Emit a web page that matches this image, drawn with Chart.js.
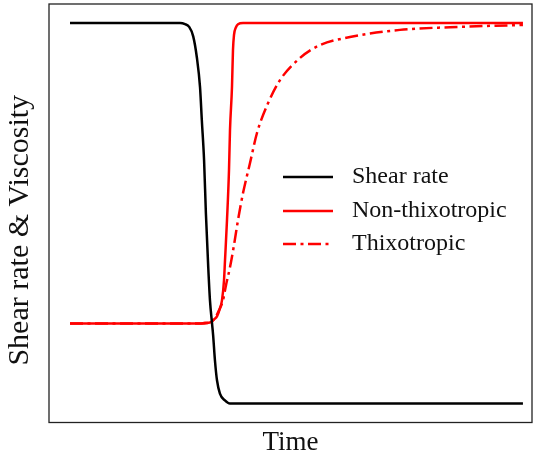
<!DOCTYPE html>
<html>
<head>
<meta charset="utf-8">
<script src="https://cdn.jsdelivr.net/npm/chart.js@4.4.1/dist/chart.umd.min.js"></script>
<style>
  html, body { margin: 0; padding: 0; background: #fff; }
  #wrap { width: 533px; height: 458px; }
</style>
</head>
<body>
<div id="wrap"><canvas id="Chart" width="533" height="458"></canvas></div>
<script>
// Curves (time 0..10, value 0..1)
const shearTime = [0, 2.43, 2.54, 2.63, 2.72, 2.8, 2.87, 2.91, 2.96, 3.0, 3.05, 3.09, 3.135, 3.16, 3.2, 3.245, 3.31, 3.42, 3.53, 10];
const shearRate = [1, 1, 0.997, 0.99, 0.965, 0.91, 0.832, 0.745, 0.639, 0.5, 0.363, 0.271, 0.211, 0.179, 0.113, 0.061, 0.026, 0.008, 0, 0];

const nonThixTime = [0, 2.65, 2.87, 2.98, 3.09, 3.18, 3.245, 3.31, 3.355, 3.4, 3.422, 3.466, 3.51, 3.532, 3.576, 3.598, 3.62, 3.664, 3.709, 3.82, 10];
const nonThixVisc = [0.21, 0.21, 0.21, 0.212, 0.213, 0.221, 0.229, 0.25, 0.271, 0.324, 0.376, 0.482, 0.613, 0.718, 0.832, 0.929, 0.968, 0.989, 0.997, 1, 1];

const thixTime = [0, 2.87, 3.09, 3.2, 3.29, 3.377, 3.444, 3.532, 3.62, 3.709, 3.82, 3.974, 4.128, 4.371, 4.636, 5.077, 5.519, 6.181, 7.285, 8.389, 10];
const thixVisc = [0.21, 0.21, 0.213, 0.224, 0.245, 0.271, 0.311, 0.358, 0.416, 0.482, 0.553, 0.632, 0.711, 0.789, 0.85, 0.908, 0.942, 0.963, 0.982, 0.989, 0.995];

const seriesLabels = ['Shear rate', 'Non-thixotropic', 'Thixotropic'];
const yAxisLabel = 'Shear rate & Viscosity';

const toPoints = (xs, ys) => xs.map((x, i) => ({ x: x, y: ys[i] }));

const serif = "'Liberation Serif', 'DejaVu Serif', serif";

// frame around the plot area + y label (sits a bit below centre, like the original)
const framePlugin = {
  id: 'frame',
  afterDraw(chart) {
    const { ctx, chartArea: a } = chart;
    ctx.save();
    ctx.strokeStyle = '#222';
    ctx.lineWidth = 1.3;
    ctx.strokeRect(a.left, a.top, a.right - a.left, a.bottom - a.top);

    ctx.translate(20, (a.top + a.bottom) / 2 + 17);
    ctx.rotate(-Math.PI / 2);
    ctx.fillStyle = '#111';
    ctx.font = "30px " + serif;
    ctx.textAlign = 'center';
    ctx.textBaseline = 'middle';
    ctx.fillText(yAxisLabel, 0, 0);
    ctx.restore();
  }
};

// legend drawn inside the plot, taken from the datasets
const insideLegend = {
  id: 'insideLegend',
  afterDatasetsDraw(chart) {
    const { ctx, chartArea: a } = chart;
    const x0 = a.left + 234, x1 = a.left + 284, tx = a.left + 303;
    const rows = [177, 211, 244];
    ctx.save();
    chart.data.datasets.forEach((ds, i) => {
      const y = rows[i];
      ctx.strokeStyle = ds.borderColor;
      ctx.lineWidth = ds.borderWidth;
      ctx.setLineDash(ds.borderDash || []);
      ctx.beginPath();
      ctx.moveTo(x0, y);
      ctx.lineTo(x1, y);
      ctx.stroke();
      ctx.setLineDash([]);
      ctx.fillStyle = '#111';
      ctx.font = "24px " + serif;
      ctx.textBaseline = 'middle';
      ctx.fillText(ds.label, tx, y);
    });
    ctx.restore();
  }
};

const data = {
  datasets: [
    {
      label: seriesLabels[0],
      data: toPoints(shearTime, shearRate),
      borderColor: '#000',
      borderWidth: 2.5
    },
    {
      label: seriesLabels[1],
      data: toPoints(nonThixTime, nonThixVisc),
      borderColor: '#ff0000',
      borderWidth: 2.5
    },
    {
      label: seriesLabels[2],
      data: toPoints(thixTime, thixVisc),
      borderColor: '#ff0000',
      borderWidth: 2.5,
      borderDash: [13, 4.5, 3, 4.5]
    }
  ]
};

const config = {
  type: 'line',
  data: data,
  options: {
    responsive: false,
    animation: false,
    cubicInterpolationMode: 'monotone',
    elements: {
      point: { radius: 0 },
      line: { tension: 0.4, borderCapStyle: 'butt' }
    },
    layout: { padding: { top: 4, right: 1, bottom: 0, left: 49 } },
    scales: {
      x: {
        type: 'linear',
        min: -0.464,
        max: 10.2,
        grid: { display: false, drawTicks: false },
        border: { display: false },
        ticks: { display: false },
        title: {
          display: true,
          text: 'Time',
          color: '#111',
          font: { family: serif, size: 27, lineHeight: 1 },
          padding: { top: 7, bottom: 1.5 }
        }
      },
      y: {
        min: -0.05,
        max: 1.05,
        grid: { display: false, drawTicks: false },
        border: { display: false },
        ticks: { display: false },
        title: { display: false }
      }
    },
    plugins: {
      legend: { display: false },
      tooltip: { enabled: false }
    }
  },
  plugins: [framePlugin, insideLegend]
};

window.addEventListener('load', () => {
  const ctx = document.getElementById('Chart');
  new Chart(ctx, config);
});
</script>
</body>
</html>
